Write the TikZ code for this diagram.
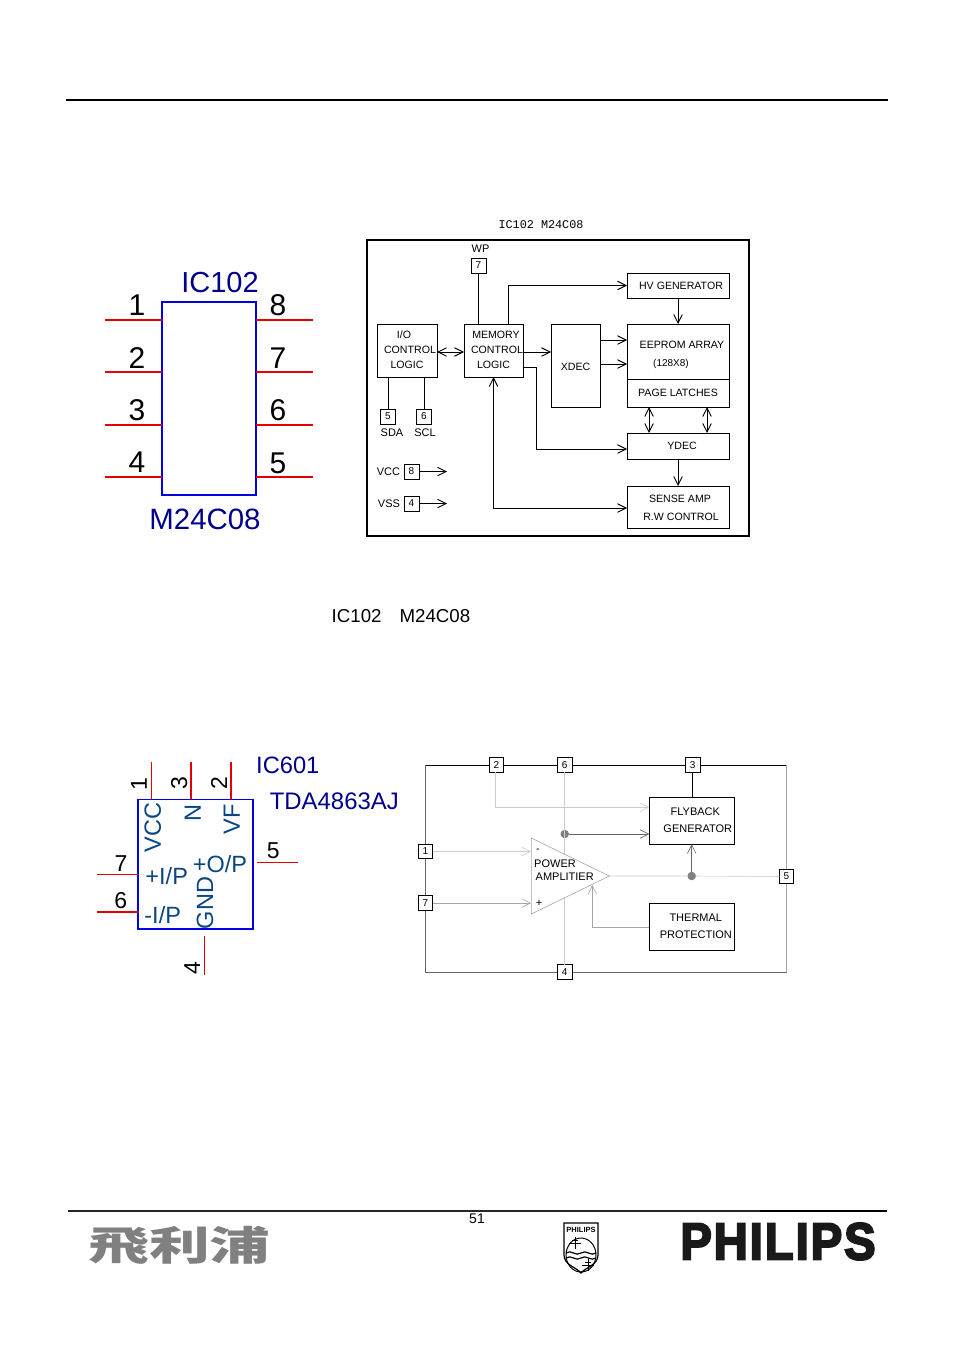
\documentclass[tikz,border=0pt]{standalone}
\usepackage{fontspec}
\setmainfont{Liberation Sans}
\newfontfamily\cjkfont{Noto Sans CJK SC}
\newfontfamily\logofont[FakeBold=4,LetterSpace=4,UprightFont=* Bold]{Liberation Sans}
\newfontfamily\dotfont{Liberation Mono}
\usetikzlibrary{arrows.meta, positioning, shapes.geometric}
\definecolor{SchemBlue}{RGB}{0,0,140}
\definecolor{PinBlue}{RGB}{10,70,130}
\definecolor{BoxBlue}{RGB}{0,0,230}
\definecolor{PinRed}{RGB}{230,0,0}
\definecolor{Gray40}{gray}{0.40}
\definecolor{Gray50}{gray}{0.50}
\definecolor{Gray65}{gray}{0.65}
\definecolor{Gray80}{gray}{0.80}
\newcommand{\pxfont}[1]{\fontsize{#1}{#1}\selectfont}
\newcommand{\upone}{\rule[-2pt]{0pt}{2pt}}

\begin{document}
\begin{tikzpicture}[
    x=1pt, y=-1pt,
    % Global Styles
    inner sep=0pt, outer sep=0pt,
    % Styles for the two chip outlines
    chip/.style={rectangle, draw=BoxBlue, line width=1.6pt},
    pinline/.style={draw=PinRed, line width=1pt},
    pinthick/.style={draw=PinRed, line width=1.8pt},
    pinnum/.style={font=\pxfont{30}, text=black},
    pinsmall/.style={font=\pxfont{23}, text=black},
    pinname/.style={font=\pxfont{23.5}, text=PinBlue},
    % Block diagram of the memory
    block/.style={
        rectangle,
        draw=black,
        fill=white,
        line width=0.9pt,
        align=center,
        font=\pxfont{10.6},
        execute at begin node={\baselineskip=15pt}
    },
    pinbox/.style={
        rectangle,
        draw=black,
        fill=white,
        line width=0.9pt,
        minimum width=15pt,
        minimum height=15pt,
        font=\pxfont{10}
    },
    tag/.style={font=\pxfont{11}},
    % Block diagram of the amplifier
    ablock/.style={
        rectangle,
        draw=black,
        fill=white,
        line width=0.7pt,
        minimum width=85pt,
        minimum height=47pt,
        align=center,
        font=\pxfont{11},
        execute at begin node={\baselineskip=17pt}
    },
    apin/.style={
        rectangle,
        draw=black,
        fill=white,
        line width=0.7pt,
        minimum width=14.5pt,
        minimum height=14.5pt,
        font=\pxfont{10}
    },
    joint/.style={circle, fill=Gray50, minimum size=8.5pt},
    % Connector line styles
    conn/.style={
        draw=black,
        -{Straight Barb[length=3mm,width=3mm]},
        line width=0.9pt
    },
    both/.style={
        draw=black,
        {Straight Barb[length=3mm,width=3mm]}-{Straight Barb[length=3mm,width=3mm]},
        line width=0.9pt
    },
    plain/.style={draw=black, line width=0.9pt},
    aconn/.style={
        draw=#1,
        -{Straight Barb[length=3mm,width=3mm]},
        line width=0.6pt
    },
    aplain/.style={draw=#1, line width=0.6pt}
]
    \useasboundingbox (0,0) rectangle (954,1351);

    % --- Page rules ---
    \coordinate (topl) at (66,100);
    \coordinate (topr) at (888,100);
    \draw[line width=2pt] (topl) -- (topr);
    \coordinate (botl) at (68,1211);
    \coordinate (botm) at (760,1211);
    \coordinate (botr) at (887,1211);
    \draw[line width=2.4pt, draw=black!85] (botl) -- (botm);
    \draw[line width=1.6pt] (botm) -- (botr);

    % --- IC102 pinout ---
    \node[chip, minimum width=94pt, minimum height=193pt] (ic) at (209,398.5) {};
    \node[font=\pxfont{29}, text=SchemBlue] (icname) at (220,283) {IC102};
    \node[font=\pxfont{29.4}, text=SchemBlue] (ictype) at (205,519.5) {M24C08};
    \foreach \n/\y/\ny in {1/320/305, 2/372/358, 3/425/410, 4/477/462} {
        \coordinate (p\n) at (105,\y);
        \coordinate (q\n) at (162,\y);
        \draw[pinthick] (p\n) -- (q\n);
        \node[pinnum] (pn\n) at (137,\ny) {\n};
    }
    \foreach \n/\y/\ny in {8/320/305, 7/372/358, 6/425/410, 5/477/463} {
        \coordinate (p\n) at (256,\y);
        \coordinate (q\n) at (313,\y);
        \draw[pinthick] (p\n) -- (q\n);
        \node[pinnum] (pn\n) at (278,\ny) {\n};
    }

    % --- IC102 block diagram ---
    \node[font=\dotfont\pxfont{11.8}] (memtitle) at (541,225) {IC102 M24C08};
    \node[rectangle, draw=black, line width=1.5pt, minimum width=382pt, minimum height=296pt] (frame) at (558,388) {};

    \node[block, minimum width=60pt, minimum height=53pt] (io) at (407,350.5) {\hspace*{-6pt}I/O\\\hspace*{6pt}CONTROL\\LOGIC\upone};
    \node[block, minimum width=59pt, minimum height=53pt] (memctl) at (493.5,350.5) {\hspace*{5pt}MEMORY\\\hspace*{7pt}CONTROL\\LOGIC\upone};
    \node[block, minimum width=49pt, minimum height=83pt] (xdec) at (575.5,365.5) {\rule{0pt}{11pt}XDEC};
    \node[block, minimum width=102pt, minimum height=25pt] (hv) at (678,285.5) {\hspace*{6pt}HV GENERATOR};
    \node[block, minimum width=102pt, minimum height=55pt] (eeprom) at (678,351.5) {\rule{0pt}{14pt}\hspace*{8pt}EEPROM ARRAY\\[3pt]\hspace*{-14pt}{\pxfont{10}(128X8)}};
    \node[block, minimum width=102pt, minimum height=28pt, below=0pt of eeprom] (latch) {PAGE LATCHES};
    \node[block, minimum width=102pt, minimum height=26pt] (ydec) at (678,446) {\hspace*{8pt}YDEC};
    \node[block, minimum width=102pt, minimum height=42pt] (sense) at (678,507) {\rule{0pt}{10pt}\hspace*{4pt}SENSE AMP\\[3pt]\hspace*{6pt}R.W CONTROL};

    \node[pinbox] (wp) at (478.5,265.5) {7};
    \node[tag, above=6pt of wp, xshift=2pt] (wpname) {WP};
    \node[pinbox] (sda) at (388,416.5) {5};
    \node[tag, below=5pt of sda, xshift=4pt] (sdaname) {SDA};
    \node[pinbox] (scl) at (424,416.5) {6};
    \node[tag, below=5pt of scl, xshift=1pt] (sclname) {SCL};
    \node[pinbox] (vcc) at (411.5,471.5) {8};
    \node[tag, left=4pt of vcc] (vccname) {VCC};
    \node[pinbox] (vss) at (411.5,503.5) {4};
    \node[tag, left=4pt of vss] (vssname) {VSS};
    \coordinate (vccend) at (447,471.5);
    \coordinate (vssend) at (447,503.5);

    \draw[plain] (wp) -- (wp |- memctl.north);
    \draw[plain] (sda) -- (sda |- io.south);
    \draw[plain] (scl) -- (scl |- io.south);
    \draw[conn] (vcc) -- (vccend);
    \draw[conn] (vss) -- (vssend);
    \draw[both] (io.east) ++(0,1.5) -- ++(27,0);
    \draw[conn] (memctl.east) ++(0,1.5) -- ++(28,0);
    \draw[conn] (memctl.north) ++(14.5,0) |- (hv.west);
    \draw[conn] (hv.south) -- (eeprom.north);
    \draw[conn] (xdec.east |- 0,340) -- (eeprom.west |- 0,340);
    \draw[conn] (xdec.east |- 0,364) -- (eeprom.west |- 0,364);
    \draw[conn] (memctl.east |- 0,367) -| (536,449) -- (ydec.west |- 0,449);
    \draw[both] (649,407) -- (649,433);
    \draw[both] (707,407) -- (707,433);
    \draw[conn] (ydec.south) -- (sense.north);
    \draw[both] (memctl.south) |- (sense.west |- 0,508);

    \node[font=\pxfont{18.7}] (capmem) at (401,616) {IC102\hspace{18pt}M24C08};

    % --- IC601 pinout ---
    \node[chip, minimum width=115.5pt, minimum height=129.7pt] (amp) at (195.5,864.2) {};
    \node[font=\pxfont{23.7}, text=SchemBlue] (ampname) at (287.8,765) {IC601};
    \node[font=\pxfont{23.9}, text=SchemBlue] (amptype) at (334.3,801) {TDA4863AJ};
    \foreach \n/\x/\w in {1/151.7/pinline, 3/191/pinthick, 2/231/pinthick} {
        \coordinate (t\n) at (\x,762.3);
        \coordinate (u\n) at (\x,799);
        \draw[\w] (t\n) -- (u\n);
    }
    \node[pinsmall, rotate=90] (tn1) at (139,784) {1};
    \node[pinsmall, rotate=90] (tn3) at (179.3,783) {3};
    \node[pinsmall, rotate=90] (tn2) at (219,783) {2};
    \coordinate (t7) at (97.3,874);
    \coordinate (u7) at (138,874);
    \draw[pinline] (t7) -- (u7);
    \node[pinsmall] (tn7) at (121,864) {7};
    \coordinate (t6) at (97.3,911.7);
    \coordinate (u6) at (138,911.7);
    \draw[pinthick] (t6) -- (u6);
    \node[pinsmall] (tn6) at (120.7,901) {6};
    \coordinate (t5) at (257,862.3);
    \coordinate (u5) at (297.7,862.3);
    \draw[pinline] (t5) -- (u5);
    \node[pinsmall] (tn5) at (273.3,851) {5};
    \coordinate (t4) at (204.3,936);
    \coordinate (u4) at (204.3,974.7);
    \draw[pinline] (t4) -- (u4);
    \node[pinsmall, rotate=90] (tn4) at (192.3,967.7) {4};
    \node[pinname, rotate=90] (vccpin) at (152.7,827.7) {VCC};
    \node[pinname, rotate=90] (npin) at (192.7,813.3) {N};
    \node[pinname, rotate=90] (vfpin) at (231.7,819) {VF};
    \node[pinname] (pluspin) at (166.7,876) {+I/P};
    \node[pinname] (minuspin) at (162.7,915) {-I/P};
    \node[pinname] (outpin) at (220,863.7) {+O/P};
    \node[pinname, rotate=90] (gndpin) at (205,903) {GND};

    % --- IC601 block diagram ---
    \coordinate (ftl) at (425.5,765);
    \coordinate (ftr) at (786.5,765);
    \coordinate (fbl) at (425.5,972);
    \coordinate (fbr) at (786.5,972);
    \draw[aplain=black, line width=0.8pt] (ftl) -- (ftr);
    \draw[aplain=Gray40] (ftl) -- (fbl) -- (fbr);
    \draw[aplain=Gray65] (ftr) -- (fbr);

    \node[apin] (a2) at (496.5,765) {2};
    \node[apin] (a6) at (564.7,765) {6};
    \node[apin] (a3) at (692.7,765) {3};
    \node[apin] (a1) at (425.5,851.5) {1};
    \node[apin] (a7) at (425.5,903) {7};
    \node[apin] (a5) at (786.5,876.5) {5};
    \node[apin] (a4) at (564.7,972) {4};

    \node[ablock] (flyback) at (691.8,820.8) {\hspace*{7pt}FLYBACK\\\hspace*{12pt}GENERATOR\upone};
    \node[ablock] (thermal) at (691.8,926.8) {\hspace*{8pt}THERMAL\\\hspace*{8pt}PROTECTION\upone};
    \node[joint] (jleft) at (564.7,834) {};
    \node[joint] (jright) at (691.7,876) {};

    \draw[aplain=Gray80] (a6) -- (a4);
    \draw[aconn=Gray80] (a2.south) ++(-1,0) |- (flyback.west |- 0,807.3);
    \draw[aconn=Gray40] (jleft) -- (flyback.west |- jleft);
    \draw[aplain=black, line width=0.8pt] (a3) -- (flyback.north -| a3);
    \draw[aconn=Gray40] (jright) -- (flyback.south -| jright);

    \node[isosceles triangle, isosceles triangle stretches, draw=Gray65, fill=white, line width=0.6pt,
          minimum width=76pt, minimum height=78pt, anchor=apex] (pwr) at (609.3,876) {};
    \node[font=\pxfont{11}] (pwrtop) at (555,863.3) {POWER};
    \node[font=\pxfont{11}] (pwrbot) at (564.7,877.2) {AMPLITIER};
    \node[font=\pxfont{11}] (pwrminus) at (538,851) {-};
    \node[font=\pxfont{11}] (pwrplus) at (539,903) {+};

    \coordinate (pwrin) at (531,851.5);
    \coordinate (pwrip) at (531,903);
    \coordinate (pwrth) at (592.3,885);
    \draw[aconn=Gray80] (a1) -- (pwrin);
    \draw[aconn=Gray65] (a7) -- (pwrip);
    \draw[aplain=Gray80] (pwr.apex) -- (jright) -- (a5);
    \draw[aconn=Gray65] (thermal.west) -| (pwrth);

    % --- Footer ---
    \node[font=\pxfont{14}] (pagenum) at (477,1219) {51};
    \node[font=\cjkfont\bfseries\pxfont{40}, text=black!50, xscale=1.52, transform shape] (cnlogo) at (179.5,1245) {飛利浦};
    \node[font=\logofont\pxfont{52}, text=black!90, xscale=0.91, transform shape] (enlogo) at (778,1241.5) {PHILIPS};

    % --- Emblem ---
    \draw[line width=1.2pt] (564,1223) -- (598,1223) -- (598,1255) .. controls (598,1265) and (586,1267) .. (581,1273)
        .. controls (576,1267) and (564,1265) .. (564,1255) -- cycle;
    \node[font=\bfseries\pxfont{7.5}] (emblemtext) at (581,1230) {PHILIPS};
    \draw[line width=1pt] (581,1255) ellipse (15 and 17);
    \draw[line width=1.2pt] (566,1253) .. controls (571,1249) and (576,1257) .. (581,1253) .. controls (586,1249) and (591,1257) .. (596,1253);
    \draw[line width=1.2pt] (566,1258) .. controls (571,1254) and (576,1262) .. (581,1258) .. controls (586,1254) and (591,1262) .. (596,1258);
    \foreach \cx/\cy in {575/1243, 588/1265} {
        \draw[line width=0.7pt] (\cx-6,\cy) -- (\cx+6,\cy);
        \draw[line width=0.7pt] (\cx,\cy-6) -- (\cx,\cy+6);
        \draw[line width=0.7pt] (\cx-3,\cy-3) -- (\cx+3,\cy-3);
    }
\end{tikzpicture}
\end{document}
